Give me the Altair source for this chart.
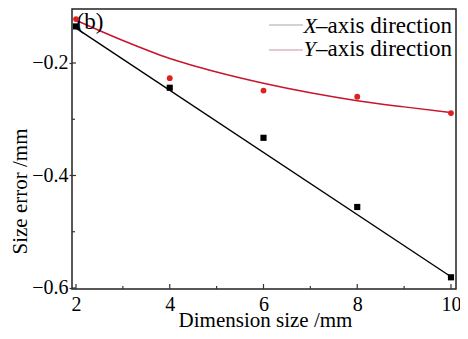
import altair as alt
import pandas as pd

# ---- data ----
dimension = [2, 4, 6, 8, 10]
x_dir_error = [-0.135, -0.244, -0.333, -0.456, -0.581]
y_dir_error = [-0.122, -0.227, -0.249, -0.260, -0.289]
x_fit_dimension = [2, 10]
x_fit_error = [-0.138, -0.580]
y_fit_dimension = [2, 3, 4, 5, 6, 7, 8, 9, 10]
y_fit_error = [-0.124, -0.160, -0.192, -0.216, -0.236, -0.253, -0.267, -0.278, -0.288]
x_major_ticks = [2, 4, 6, 8, 10]
x_minor_ticks = [3, 5, 7, 9]
y_major_ticks = [-0.2, -0.4, -0.6]
y_minor_ticks = [-0.3, -0.5]
series_names = ["X", "Y"]
legend_suffix = "\u2013axis direction"
panel_label = "(b)"

W, H = 384, 280
FONT = "Liberation Serif"
xs = alt.Scale(domain=[1.9147, 10.107], nice=False, zero=False)
ys = alt.Scale(domain=[-0.6018, -0.104], nice=False, zero=False)

pts = pd.DataFrame({"dim": dimension, "xerr": x_dir_error, "yerr": y_dir_error})
xfit = pd.DataFrame({"dim": x_fit_dimension, "err": x_fit_error})
yfit = pd.DataFrame({"dim": y_fit_dimension, "err": y_fit_error})

x_axis = alt.Axis(values=x_major_ticks, format="d", ticks=False, domain=False, grid=False,
                  labelFont=FONT, labelFontSize=20, labelColor="black", labelPadding=5,
                  labelFlush=False, title="Dimension size /mm", titleFont=FONT,
                  titleFontSize=21, titleFontWeight="normal", titleColor="black",
                  titleX=193, titleY=37, titleBaseline="alphabetic", titleAlign="center")
y_axis = alt.Axis(values=y_major_ticks, format=".1f", ticks=True, tickSize=3, tickColor="#333",
                  tickWidth=1.2, domain=False, grid=False, labelFont=FONT, labelFontSize=20,
                  labelColor="black", labelPadding=1, labelFlush=False,
                  title="Size error /mm", titleFont=FONT, titleFontSize=21,
                  titleFontWeight="normal", titleColor="black", titleX=-52, titleY=182,
                  titleAngle=270, titleAlign="center", titleBaseline="middle")


def X(field):
    return alt.X(field, scale=xs, axis=x_axis)


def Y(field):
    return alt.Y(field, scale=ys, axis=y_axis)


black_pts = alt.Chart(pts).mark_square(size=38, color="black", opacity=1).encode(
    x=X("dim:Q"), y=Y("xerr:Q"))
red_pts = alt.Chart(pts).mark_circle(size=34, color="#e0201e", opacity=1).encode(
    x=X("dim:Q"), y=Y("yerr:Q"))
black_line = alt.Chart(xfit).mark_line(color="black", strokeWidth=1.4).encode(
    x=X("dim:Q"), y=Y("err:Q"))
red_line = alt.Chart(yfit).mark_line(color="#c8142c", strokeWidth=1.5,
                                     interpolate="monotone").encode(
    x=X("dim:Q"), y=Y("err:Q"))


# inward ticks
def xticks(vals, length):
    return alt.Chart(pd.DataFrame({"v": vals})).mark_rule(color="#333", strokeWidth=1.2).encode(
        x=X("v:Q"), y=alt.value(H), y2=alt.value(H - length))


def yticks(vals, length):
    return alt.Chart(pd.DataFrame({"v": vals})).mark_rule(color="#333", strokeWidth=1.2).encode(
        y=Y("v:Q"), x=alt.value(0), x2=alt.value(length))


tick_layers = [xticks(x_major_ticks, 5), xticks(x_minor_ticks, 3),
               yticks(y_major_ticks, 4), yticks(y_minor_ticks, 3)]

# legend and panel label
legend_colors = ["#a8a8a8", "#c9939c"]
legend_layers = []
for i, name in enumerate(series_names):
    d = pd.DataFrame({"name": [name], "rest": [legend_suffix]})
    yl = 16 + 25 * i
    yb = 23.5 + 23.5 * i
    legend_layers.append(alt.Chart(d).mark_rule(color=legend_colors[i], strokeWidth=1.2).encode(
        x=alt.value(197), x2=alt.value(231), y=alt.value(yl)))
    legend_layers.append(alt.Chart(d).mark_text(font=FONT, fontSize=22, fontStyle="italic",
                                                align="left", baseline="alphabetic",
                                                color="black").encode(
        text="name:N", x=alt.value(231.5), y=alt.value(yb)))
    legend_layers.append(alt.Chart(d).mark_text(font=FONT, fontSize=23, align="left",
                                                baseline="alphabetic", color="black").encode(
        text="rest:N", x=alt.value(244), y=alt.value(yb)))

label_layer = alt.Chart(pd.DataFrame({"t": [panel_label]})).mark_text(
    font=FONT, fontSize=23, align="left", baseline="alphabetic", color="black").encode(
    text="t:N", x=alt.value(4.5), y=alt.value(19.5))

chart = alt.layer(
    *tick_layers, black_line, red_line, label_layer, *legend_layers, black_pts, red_pts
).properties(
    width=W, height=H,
    autosize=alt.AutoSizeParams(type="none"),
    padding={"left": 64, "top": 1, "right": 4, "bottom": 42},
    background="white",
).configure_view(stroke="#222", strokeWidth=1.5)

chart.save("out.html", embed_options={"renderer": "svg", "actions": False})
